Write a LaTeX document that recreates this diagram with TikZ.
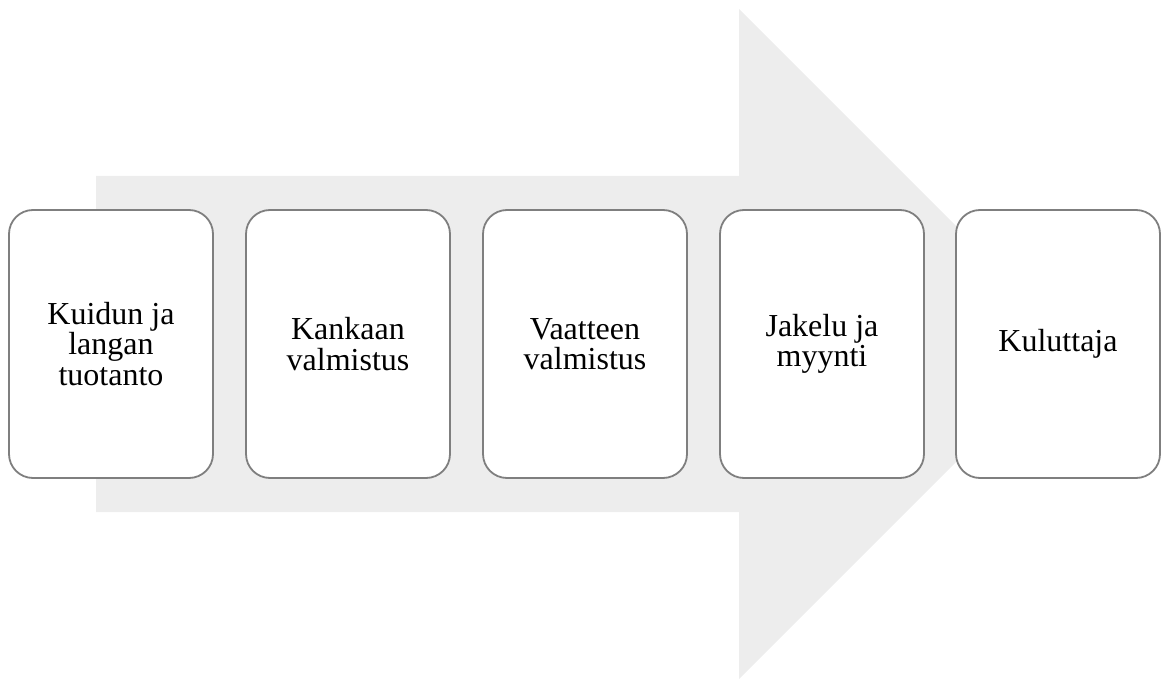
\documentclass[tikz,border=0pt]{standalone}
\usepackage{fontspec}
\setmainfont{Liberation Serif}
\usepackage{tikz}
\usetikzlibrary{positioning}
\definecolor{arrowgray}{HTML}{EDEDED}
\definecolor{edgegray}{HTML}{7F7F7F}

\begin{document}
\begin{tikzpicture}[x=1pt, y=1pt,
    stage/.style = {draw=edgegray, line width=1.8pt, fill=white, rounded corners=24pt,
                    minimum width=204pt, minimum height=268pt, align=center,
                    font=\fontsize{32}{30.5}\selectfont}]
    \useasboundingbox (0,0) rectangle (1161,678);

    % big background arrow
    \fill[arrowgray] (96,502) -- (739,502) -- (739,669) -- (1074,334)
        -- (739,-1) -- (739,166) -- (96,166) -- cycle;

    \node[stage] (kuitu) at (111,334) {Kuidun ja\\langan\\tuotanto};
    \node[stage] (kangas) at (348,334) {Kankaan\\valmistus};
    \node[stage] (vaate) at (585,334) {Vaatteen\\valmistus};
    \node[stage] (jakelu) at (822,334) {Jakelu ja\\myynti};
    \node[stage] (kuluttaja) at (1058,334) {Kuluttaja};
\end{tikzpicture}
\end{document}
